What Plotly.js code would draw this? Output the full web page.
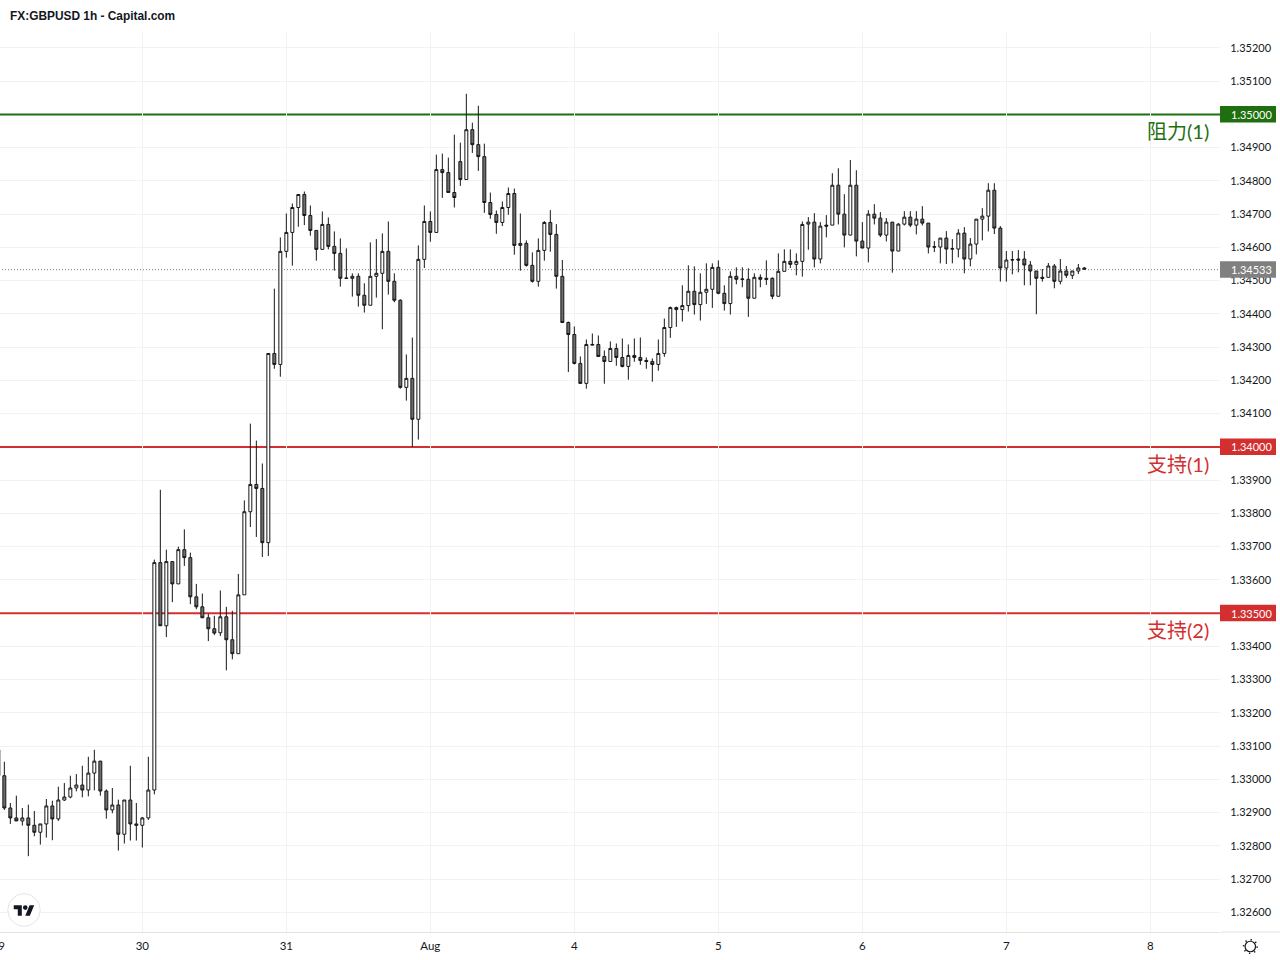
<!DOCTYPE html>
<html>
<head>
<meta charset="utf-8">
<script src="https://cdn.plot.ly/plotly-3.0.1.min.js"></script>
<style>
html,body{margin:0;padding:0;background:#fff;overflow:hidden;width:1280px;height:960px}
#chart{position:absolute;left:-10px;top:0;width:1290px;height:960px}
</style>
</head>
<body>
<div id="chart"></div>
<script>
const chartTitle = "FX:GBPUSD 1h - Capital.com";
const dayTickIndex = [0,24,48,72,96,120,144,168,192];
const dayTickText = ["29","30","31","Aug","4","5","6","7","8"];
const priceTicks = [1.326,1.327,1.328,1.329,1.330,1.331,1.332,1.333,1.334,1.336,1.337,1.338,1.339,1.341,1.342,1.343,1.344,1.345,1.346,1.347,1.348,1.349,1.351,1.352];

const openPrices = [
1.33089,1.33011,1.32914,1.32884,1.32875,1.32884,1.32862,1.32841,1.32866,1.32920,1.32881,1.32938,1.32947,1.32974,1.32983,1.32968,1.33019,1.33055,1.32965,1.32908,1.32923,1.32835,1.32938,1.32866,
1.32862,1.32884,1.32968,1.33652,1.33462,1.33655,1.33588,1.33691,1.33667,1.33549,1.33519,1.33486,1.33453,1.33441,1.33489,1.33420,1.33378,1.33555,1.33805,1.33887,1.33875,1.33712,1.34281,1.34248,
1.34588,1.34645,1.34720,1.34759,1.34696,1.34651,1.34594,1.34669,1.34603,1.34582,1.34508,1.34507,1.34513,1.34456,1.34426,1.34513,1.34522,1.34588,1.34498,1.34441,1.34179,1.34206,1.34083,1.34564,
1.34678,1.34645,1.34834,1.34825,1.34765,1.34858,1.34804,1.34954,1.34909,1.34873,1.34735,1.34699,1.34675,1.34720,1.34762,1.34606,1.34612,1.34546,1.34498,1.34591,1.34675,1.34639,1.34513,1.34374,
1.34338,1.34251,1.34191,1.34306,1.34308,1.34272,1.34257,1.34296,1.34269,1.34242,1.34275,1.34269,1.34260,1.34257,1.34248,1.34281,1.34359,1.34419,1.34413,1.34425,1.34468,1.34428,1.34465,1.34474,
1.34540,1.34462,1.34431,1.34513,1.34505,1.34504,1.34447,1.34510,1.34507,1.34507,1.34453,1.34528,1.34558,1.34549,1.34558,1.34670,1.34676,1.34565,1.34667,1.34667,1.34787,1.34700,1.34637,1.34787,
1.34619,1.34598,1.34700,1.34688,1.34637,1.34676,1.34589,1.34670,1.34691,1.34667,1.34685,1.34673,1.34602,1.34601,1.34628,1.34595,1.34595,1.34643,1.34565,1.34610,1.34685,1.34694,1.34772,1.34658,
1.34538,1.34562,1.34565,1.34565,1.34547,1.34529,1.34510,1.34510,1.34544,1.34498,1.34529,1.34516,1.34529,1.34538];

const highPrices = [
1.33089,1.33053,1.32929,1.32951,1.32914,1.32924,1.32905,1.32866,1.32941,1.32936,1.32978,1.32989,1.33011,1.33016,1.33041,1.33068,1.33089,1.33055,1.32970,1.32974,1.32939,1.32938,1.33041,1.32929,
1.32887,1.33068,1.33661,1.33871,1.33691,1.33655,1.33700,1.33752,1.33682,1.33588,1.33559,1.33498,1.33492,1.33568,1.33519,1.33507,1.33618,1.33839,1.34070,1.34019,1.33950,1.34281,1.34476,1.34630,
1.34702,1.34732,1.34759,1.34768,1.34726,1.34651,1.34708,1.34690,1.34648,1.34627,1.34597,1.34522,1.34522,1.34492,1.34615,1.34625,1.34642,1.34678,1.34522,1.34444,1.34278,1.34329,1.34606,1.34726,
1.34708,1.34879,1.34882,1.34870,1.34939,1.34915,1.35062,1.34975,1.35026,1.34912,1.34765,1.34711,1.34738,1.34780,1.34777,1.34702,1.34621,1.34585,1.34627,1.34679,1.34712,1.34670,1.34562,1.34377,
1.34362,1.34272,1.34323,1.34341,1.34335,1.34290,1.34317,1.34311,1.34326,1.34308,1.34326,1.34329,1.34269,1.34266,1.34323,1.34386,1.34422,1.34422,1.34486,1.34546,1.34543,1.34522,1.34552,1.34552,
1.34561,1.34486,1.34528,1.34540,1.34540,1.34537,1.34522,1.34519,1.34561,1.34510,1.34582,1.34594,1.34594,1.34582,1.34678,1.34691,1.34703,1.34676,1.34697,1.34823,1.34838,1.34760,1.34863,1.34832,
1.34676,1.34712,1.34730,1.34706,1.34688,1.34676,1.34673,1.34709,1.34709,1.34709,1.34724,1.34673,1.34619,1.34628,1.34649,1.34625,1.34655,1.34661,1.34628,1.34685,1.34718,1.34793,1.34793,1.34664,
1.34589,1.34589,1.34592,1.34589,1.34559,1.34529,1.34535,1.34553,1.34550,1.34565,1.34544,1.34529,1.34550,1.34541];

const lowPrices = [
1.33011,1.32908,1.32866,1.32875,1.32861,1.32769,1.32829,1.32804,1.32825,1.32817,1.32875,1.32935,1.32943,1.32964,1.32946,1.32949,1.32967,1.32951,1.32882,1.32898,1.32786,1.32807,1.32816,1.32816,
1.32795,1.32878,1.32955,1.33462,1.33428,1.33533,1.33588,1.33642,1.33527,1.33512,1.33486,1.33416,1.33434,1.33431,1.33328,1.33361,1.33378,1.33555,1.33759,1.33729,1.33669,1.33672,1.34235,1.34211,
1.34569,1.34545,1.34662,1.34667,1.34635,1.34560,1.34594,1.34594,1.34530,1.34482,1.34507,1.34452,1.34422,1.34404,1.34426,1.34449,1.34354,1.34458,1.34435,1.34175,1.34139,1.34000,1.34022,1.34538,
1.34617,1.34645,1.34749,1.34765,1.34720,1.34785,1.34804,1.34884,1.34830,1.34704,1.34686,1.34641,1.34664,1.34698,1.34578,1.34530,1.34542,1.34494,1.34482,1.34560,1.34587,1.34476,1.34374,1.34225,
1.34248,1.34191,1.34175,1.34305,1.34272,1.34190,1.34257,1.34244,1.34239,1.34202,1.34256,1.34247,1.34235,1.34196,1.34229,1.34271,1.34328,1.34361,1.34377,1.34407,1.34398,1.34380,1.34430,1.34418,
1.34459,1.34410,1.34398,1.34489,1.34480,1.34391,1.34447,1.34480,1.34487,1.34444,1.34453,1.34528,1.34538,1.34516,1.34512,1.34593,1.34540,1.34552,1.34630,1.34667,1.34669,1.34600,1.34637,1.34573,
1.34598,1.34555,1.34669,1.34631,1.34618,1.34524,1.34589,1.34666,1.34661,1.34639,1.34666,1.34582,1.34586,1.34552,1.34550,1.34552,1.34570,1.34522,1.34543,1.34579,1.34621,1.34648,1.34640,1.34497,
1.34497,1.34519,1.34525,1.34486,1.34486,1.34399,1.34497,1.34510,1.34477,1.34489,1.34508,1.34505,1.34520,1.34532];

const closePrices = [
1.33011,1.32914,1.32884,1.32875,1.32884,1.32862,1.32841,1.32866,1.32920,1.32881,1.32938,1.32947,1.32974,1.32983,1.32968,1.33019,1.33055,1.32965,1.32908,1.32923,1.32835,1.32938,1.32866,1.32862,
1.32884,1.32968,1.33652,1.33462,1.33655,1.33588,1.33691,1.33667,1.33549,1.33519,1.33486,1.33453,1.33440,1.33489,1.33420,1.33378,1.33555,1.33805,1.33887,1.33875,1.33712,1.34281,1.34248,1.34588,
1.34645,1.34720,1.34759,1.34696,1.34651,1.34594,1.34669,1.34603,1.34582,1.34507,1.34507,1.34513,1.34456,1.34426,1.34513,1.34522,1.34588,1.34498,1.34441,1.34179,1.34206,1.34083,1.34564,1.34678,
1.34645,1.34834,1.34825,1.34765,1.34750,1.34804,1.34954,1.34909,1.34873,1.34735,1.34699,1.34675,1.34720,1.34762,1.34606,1.34612,1.34546,1.34498,1.34591,1.34675,1.34639,1.34513,1.34374,1.34338,
1.34251,1.34191,1.34308,1.34308,1.34272,1.34257,1.34296,1.34269,1.34242,1.34275,1.34269,1.34260,1.34257,1.34248,1.34281,1.34359,1.34419,1.34413,1.34425,1.34468,1.34428,1.34465,1.34474,1.34540,
1.34462,1.34431,1.34513,1.34504,1.34504,1.34447,1.34510,1.34504,1.34504,1.34453,1.34528,1.34558,1.34549,1.34558,1.34669,1.34676,1.34565,1.34664,1.34664,1.34787,1.34700,1.34637,1.34787,1.34619,
1.34598,1.34700,1.34688,1.34637,1.34676,1.34589,1.34670,1.34691,1.34667,1.34685,1.34673,1.34601,1.34601,1.34628,1.34595,1.34596,1.34643,1.34565,1.34610,1.34685,1.34694,1.34772,1.34658,1.34538,
1.34562,1.34563,1.34562,1.34547,1.34529,1.34507,1.34507,1.34544,1.34498,1.34529,1.34516,1.34529,1.34538,1.34535];

const levelNames = ["阻力(1)","支持(1)","支持(2)"];
const levelPrices = [1.35,1.34,1.335];
const levelColors = ["#1f6f10","#d32f2f","#d32f2f"];
const lastPrice = 1.34533;

const PAPER_W = 1230, PAPER_H = 900;
const px = v => (v + 10) / PAPER_W;
const py = v => (932 - v) / PAPER_H;

const logoSvg = `<svg xmlns="http://www.w3.org/2000/svg" width="68" height="68" viewBox="0 0 68 68"><circle cx="34" cy="34" r="32.5" fill="#fff" stroke="#e4e4e4" stroke-width="2"/><g transform="translate(13.5,20) scale(1.15)"><path fill="#131722" d="M14 22H7V11H0V4h14v18zM28 22h-8l7.5-18h8L28 22z"/><circle fill="#131722" cx="20" cy="8" r="4"/></g></svg>`;
const gearSvg = `<svg xmlns="http://www.w3.org/2000/svg" width="32" height="32" viewBox="0 0 32 32"><circle cx="16" cy="16" r="10.5" fill="none" stroke="#131722" stroke-width="2.4"/><circle cx="16" cy="16" r="13.6" fill="none" stroke="#131722" stroke-width="3.2" stroke-dasharray="2.6 8.08"/></svg>`;
const uri = s => "data:image/svg+xml;charset=utf-8," + encodeURIComponent(s);

const xIndex = openPrices.map((_, i) => i);

const trace = {
  type: "candlestick",
  x: xIndex,
  open: openPrices,
  high: highPrices,
  low: lowPrices,
  close: closePrices,
  whiskerwidth: 0,
  increasing: {line: {color: "#161616", width: 1}, fillcolor: "#ffffff"},
  decreasing: {line: {color: "#161616", width: 1}, fillcolor: "#6e6e6e"},
  hoverinfo: "none",
  showlegend: false
};

const fontTitle = "'Liberation Sans', Arial, sans-serif";
const fontAxis = "Lato, 'Liberation Sans', sans-serif";
const fontLabel = "Lato, 'Noto Sans CJK SC', sans-serif";

const shapes = levelPrices.map((p, i) => ({
  type: "line", xref: "paper", x0: 0, x1: 1, yref: "y", y0: p, y1: p,
  line: {color: levelColors[i], width: 2}, layer: "between"
}));
shapes.push({
  type: "line", xref: "paper", x0: 0, x1: 1, yref: "y", y0: lastPrice, y1: lastPrice,
  line: {color: "#808080", width: 1, dash: "1px,2px"}, layer: "between"
});
shapes.push({
  type: "line", xref: "paper", x0: px(1221), x1: px(1280), yref: "paper", y0: 0, y1: 0,
  line: {color: "#e2e2e2", width: 1}, layer: "above"
});

const annotations = [];
const addTag = (value, color) => {
  shapes.push({
    type: "rect", xref: "paper", x0: 1, x1: px(1276), yref: "y", ysizemode: "pixel", yanchor: value, y0: -8, y1: 8.5,
    fillcolor: color, line: {width: 0}, layer: "above"
  });
  annotations.push({
    xref: "paper", x: 1, xanchor: "left", xshift: 8.5, yref: "y", y: value, yanchor: "middle",
    text: value.toFixed(5), showarrow: false,
    font: {family: fontAxis, size: 11, color: "#ffffff"}
  });
};
levelPrices.forEach((p, i) => {
  addTag(p, levelColors[i]);
  annotations.push({
    xref: "paper", x: 1, xanchor: "right", xshift: -9, yref: "y", y: p, yanchor: "middle", yshift: -17,
    text: levelNames[i], showarrow: false,
    font: {family: fontLabel, size: 20, color: levelColors[i]}
  });
});
addTag(lastPrice, "#808080");

const layout = {
  width: 1290, height: 960,
  margin: {l: 0, r: 60, t: 32, b: 28, pad: 0},
  paper_bgcolor: "#ffffff", plot_bgcolor: "#ffffff",
  showlegend: false,
  dragmode: false,
  title: {text: "<b>" + chartTitle + "</b>", x: 20 / 1290, xanchor: "left", y: 1 - 16 / 960, yanchor: "middle",
    font: {family: fontTitle, size: 11.9, color: "#131722"}},
  xaxis: {
    type: "linear", range: [-1.389, 203.611], rangeslider: {visible: false},
    tickmode: "array", tickvals: dayTickIndex, ticktext: dayTickText,
    showgrid: true, gridcolor: "#f2f2f2", gridwidth: 1, zeroline: false,
    showline: true, linecolor: "#e2e2e2", linewidth: 1,
    ticks: "outside", ticklen: 3, tickcolor: "rgba(0,0,0,0)",
    tickfont: {family: fontAxis, size: 11.5, color: "#131722"}
  },
  yaxis: {
    side: "right", type: "linear", range: [1.32541, 1.352478],
    tickmode: "array", tickvals: priceTicks, ticktext: priceTicks.map(v => v.toFixed(5)),
    showgrid: true, gridcolor: "#f2f2f2", gridwidth: 1, zeroline: false,
    showline: false, ticks: "outside", ticklen: 7, tickcolor: "rgba(0,0,0,0)",
    tickfont: {family: fontAxis, size: 11, color: "#131722"}
  },
  shapes, annotations,
  images: [
    {source: uri(logoSvg), xref: "paper", yref: "paper", x: px(7), y: py(893), sizex: 34 / PAPER_W, sizey: 34 / PAPER_H,
     xanchor: "left", yanchor: "top", sizing: "stretch", layer: "above"},
    {source: uri(gearSvg), xref: "paper", yref: "paper", x: px(1242.3), y: py(938.5), sizex: 16 / PAPER_W, sizey: 16 / PAPER_H,
     xanchor: "left", yanchor: "top", sizing: "stretch", layer: "above"}
  ]
};

Plotly.newPlot("chart", [trace], layout, {displayModeBar: false, staticPlot: true});
</script>
</body>
</html>
